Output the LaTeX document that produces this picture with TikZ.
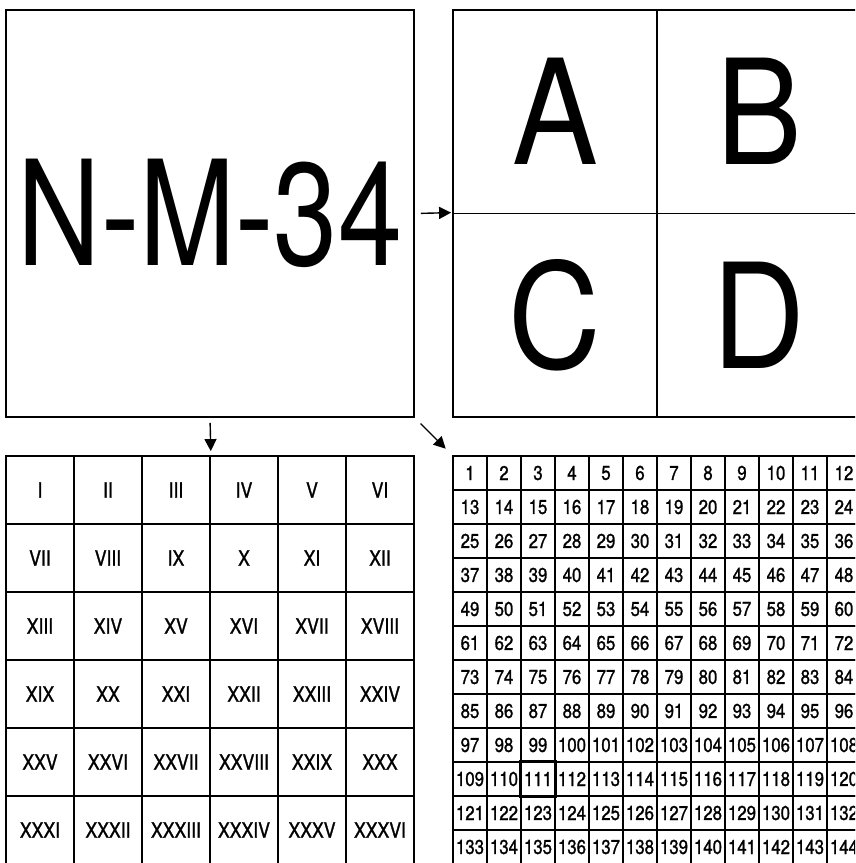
\documentclass[tikz,border=0pt]{standalone}
\usepackage{fontspec}
\setmainfont{TeX Gyre Heros}[FakeStretch=0.88]
\newfontfamily\sheetfont{TeX Gyre Heros}[FakeStretch=0.79]
\newfontfamily\cellfont{TeX Gyre Heros}[FakeStretch=0.84,FakeBold=1.2]
\usetikzlibrary{arrows.meta}
\tikzset{
  sheetbox/.style ={draw, line width=1.8pt, inner sep=0pt, minimum width=408pt,
                    minimum height=407pt, font=\sheetfont\fontsize{146}{146}\selectfont},
  quadbox/.style  ={draw, line width=1.8pt, inner sep=0pt, minimum width=204pt,
                    minimum height=203.5pt, font=\fontsize{146}{146}\selectfont},
  romcell/.style  ={draw, line width=1.8pt, inner sep=0pt, minimum size=68pt,
                    font=\cellfont\fontsize{21}{21}\selectfont},
  numcell/.style  ={draw, line width=1.8pt, inner sep=0pt, minimum size=34pt,
                    font=\cellfont\fontsize{20}{20}\selectfont},
  arr/.style      ={-{Triangle[length=12pt,width=12pt]}, line width=1.4pt},
}
\begin{document}
\begin{tikzpicture}[x=1pt,y=-1pt]
\useasboundingbox (0,0) rectangle (855,863);
\fill[white] (0,0) rectangle (855,863);
\clip (0,0) rectangle (855,863);

% the sheet and its four quarters
\node[sheetbox] (nm) at (210,213.5) {N-M-34};
\node[quadbox] (qA) at (555,111.75) {A};
\node[quadbox] (qB) at (759,111.75) {B};
\node[quadbox] (qC) at (555,315.25) {C};
\node[quadbox] (qD) at (759,315.25) {D};

% 6 x 6 division
\foreach \r [count=\k from 0] in {I,II,III,IV,V,VI,VII,VIII,IX,X,XI,XII,
    XIII,XIV,XV,XVI,XVII,XVIII,XIX,XX,XXI,XXII,XXIII,XXIV,
    XXV,XXVI,XXVII,XXVIII,XXIX,XXX,XXXI,XXXII,XXXIII,XXXIV,XXXV,XXXVI} {
  \pgfmathtruncatemacro\c{mod(\k,6)}
  \pgfmathtruncatemacro\w{div(\k,6)}
  \node[romcell] (r\k) at (40+68*\c,490+68*\w) {\r};
}

% 12 x 12 division
\foreach \k in {1,...,144} {
  \pgfmathtruncatemacro\c{mod(\k-1,12)}
  \pgfmathtruncatemacro\w{div(\k-1,12)}
  \node[numcell] (n\k) at (470+34*\c,473+34*\w) {\k};
}
\draw[line width=3pt] (n111.north west) rectangle (n111.south east);

% arrows
\draw[arr, shorten <=6pt, shorten >=1pt] (nm.east) -- (qC.north west);
\draw[arr, shorten <=5pt, shorten >=4pt] (nm.south) -- (r2.north east);
\draw[arr, shorten <=8pt, shorten >=9pt] (nm.south east) -- (n1.north west);
\end{tikzpicture}
\end{document}
